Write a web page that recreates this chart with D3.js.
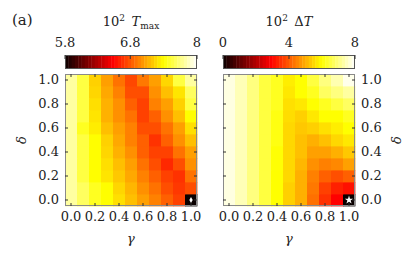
<!DOCTYPE html>
<html>
<head>
<meta charset="utf-8">
<script src="https://cdn.jsdelivr.net/npm/d3@7"></script>
<style>
  body { margin: 0; background: #fff; }
</style>
</head>
<body>
<svg id="chart" width="415" height="260"></svg>
<script>
const gammas = [0.0, 0.1, 0.2, 0.3, 0.4, 0.5, 0.6, 0.7, 0.8, 0.9, 1.0];
const deltas = [0.0, 0.1, 0.2, 0.3, 0.4, 0.5, 0.6, 0.7, 0.8, 0.9, 1.0];
const axisTicks = [0.0, 0.2, 0.4, 0.6, 0.8, 1.0];

// 10^2 T_max, one row per delta (0.0 first), columns along gamma
const tmax = [
  [7.76, 7.60, 7.45, 7.37, 7.26, 7.15, 7.04, 6.94, 6.83, 6.73, 5.80],
  [7.76, 7.60, 7.45, 7.37, 7.23, 7.12, 6.99, 6.89, 6.77, 6.70, 6.77],
  [7.76, 7.53, 7.37, 7.28, 7.18, 7.07, 6.94, 6.83, 6.73, 6.68, 6.89],
  [7.76, 7.53, 7.37, 7.26, 7.15, 7.04, 6.89, 6.77, 6.65, 6.77, 6.99],
  [7.76, 7.53, 7.37, 7.23, 7.10, 6.99, 6.83, 6.73, 6.73, 6.89, 7.04],
  [7.76, 7.53, 7.37, 7.21, 7.07, 6.94, 6.83, 6.68, 6.83, 6.99, 7.15],
  [7.76, 7.45, 7.31, 7.15, 7.04, 6.94, 6.77, 6.77, 6.89, 7.04, 7.26],
  [7.76, 7.53, 7.28, 7.10, 6.99, 6.89, 6.73, 6.83, 6.99, 7.15, 7.37],
  [7.76, 7.53, 7.26, 7.10, 6.99, 6.83, 6.73, 6.94, 7.04, 7.21, 7.53],
  [7.76, 7.53, 7.23, 7.07, 6.94, 6.77, 6.77, 6.99, 7.15, 7.28, 7.60],
  [7.76, 7.53, 7.21, 7.04, 6.89, 6.75, 6.91, 7.04, 7.23, 7.53, 7.76]
];

// 10^2 Delta T, same layout
const deltaT = [
  [7.76, 7.43, 6.98, 6.48, 5.97, 5.41, 5.02, 4.26, 3.50, 2.92, 0.00],
  [7.76, 7.43, 6.98, 6.48, 5.97, 5.41, 5.02, 4.35, 3.68, 3.30, 3.11],
  [7.76, 7.43, 6.98, 6.48, 5.97, 5.50, 5.02, 4.45, 4.07, 3.87, 4.07],
  [7.76, 7.43, 6.98, 6.48, 6.00, 5.50, 5.11, 4.64, 4.45, 4.54, 4.83],
  [7.76, 7.43, 6.98, 6.48, 6.00, 5.50, 5.21, 4.83, 4.83, 5.02, 5.31],
  [7.76, 7.43, 6.98, 6.48, 6.10, 5.50, 5.21, 5.02, 5.21, 5.50, 5.69],
  [7.76, 7.43, 6.98, 6.48, 6.10, 5.50, 5.31, 5.41, 5.60, 5.76, 5.97],
  [7.76, 7.43, 6.98, 6.48, 6.10, 5.56, 5.41, 5.69, 5.97, 5.97, 6.22],
  [7.76, 7.43, 6.98, 6.48, 6.22, 5.60, 5.69, 5.97, 6.22, 6.48, 6.73],
  [7.76, 7.43, 6.98, 6.48, 6.22, 5.69, 5.97, 6.22, 6.73, 6.98, 7.24],
  [7.76, 7.43, 6.98, 6.48, 6.22, 5.76, 5.97, 6.48, 6.98, 7.37, 7.84]
];

const tmaxRange = [5.8, 8];
const tmaxTicks = [5.8, 6.8, 8];
const deltaTRange = [0, 8];
const deltaTTicks = [0, 4, 8];
const markerCell = [1.0, 0.0];   // gamma, delta

// matplotlib-style "hot" palette
function hot(t) {
  t = Math.max(0, Math.min(1, t));
  const c = v => Math.round(255 * Math.max(0, Math.min(1, v)));
  const r = 0.0416 + (1 - 0.0416) * t / 0.365;
  const g = (t - 0.365) / 0.381;
  const b = (t - 0.746) / 0.254;
  return `rgb(${c(r)},${c(g)},${c(b)})`;
}

const serif = '"DejaVu Serif", "Liberation Serif", serif';
const svg = d3.select('#chart').attr('font-family', serif);
const size = 132;
const panelTop = 74;
const fs = 13;

function label(sel) {
  return sel.style('font-family', serif).style('font-size', fs + 'px').attr('fill', '#222');
}

function panel(x0, values, tScale, ticks, title, yLabelsRight, marker) {
  const g = svg.append('g');
  const xScale = d3.scaleBand().domain(gammas).range([x0, x0 + size]);
  const yScale = d3.scaleBand().domain(deltas).range([panelTop + size, panelTop]);

  // cells
  values.forEach((row, i) => {
    g.selectAll(null).data(row).enter().append('rect')
      .attr('x', (d, j) => xScale(gammas[j]))
      .attr('y', yScale(deltas[i]))
      .attr('width', xScale.bandwidth() + 0.4)
      .attr('height', yScale.bandwidth() + 0.4)
      .attr('fill', d => hot(tScale(d)));
  });

  // marker in the special cell
  const mx = xScale(markerCell[0]) + xScale.bandwidth() / 2;
  const my = yScale(markerCell[1]) + yScale.bandwidth() / 2;
  g.append('path')
    .attr('transform', `translate(${mx},${my})`)
    .attr('d', d3.symbol().type(marker === 'star' ? d3.symbolStar : d3.symbolDiamond).size(marker === 'star' ? 22 : 10)())
    .attr('fill', '#fff');

  g.append('rect')
    .attr('x', x0 + 0.5).attr('y', panelTop + 0.5)
    .attr('width', size - 1).attr('height', size - 1)
    .attr('fill', 'none').attr('stroke', '#8a8a8a');

  const fmt = d3.format('.1f');
  const axes = [
    [d3.axisBottom(xScale), `translate(0,${panelTop + size})`, true],
    [d3.axisTop(xScale), `translate(0,${panelTop})`, false],
    [d3.axisLeft(yScale), `translate(${x0},0)`, !yLabelsRight],
    [d3.axisRight(yScale), `translate(${x0 + size},0)`, yLabelsRight]
  ];
  axes.forEach(([ax, tr, labels]) => {
    const a = g.append('g').attr('transform', tr)
      .call(ax.tickValues(axisTicks).tickSize(-3).tickPadding(6)
        .tickFormat(labels ? fmt : () => ''));
    a.attr('font-family', null).attr('font-size', null);
    a.select('.domain').remove();
    a.selectAll('line').attr('stroke', '#333');
    label(a.selectAll('text'));
  });

  // colour bar
  const cb = g.append('g');
  const cbX = d3.scaleLinear().domain([0, 1]).range([x0, x0 + size]);
  const steps = d3.range(40);
  cb.selectAll('rect').data(steps).enter().append('rect')
    .attr('x', d => cbX(d / 40))
    .attr('y', 55)
    .attr('width', size / 40 + 0.4)
    .attr('height', 14)
    .attr('fill', d => hot((d + 0.5) / 40));
  cb.append('rect')
    .attr('x', x0 + 0.5).attr('y', 55.5).attr('width', size - 1).attr('height', 13)
    .attr('fill', 'none').attr('stroke', '#555');
  ticks.forEach(v => {
    const px = cbX(tScale(v));
    cb.append('line').attr('x1', px).attr('x2', px).attr('y1', 55).attr('y2', 59)
      .attr('stroke', '#333');
    label(cb.append('text').attr('x', px).attr('y', 47)
      .attr('text-anchor', 'middle')).text(v);
  });

  // title
  const t = label(g.append('text').attr('x', x0 + size / 2).attr('y', 26)
    .attr('text-anchor', 'middle'));
  t.append('tspan').text('10');
  t.append('tspan').attr('dy', -5).style('font-size', '9px').text('2');
  t.append('tspan').attr('dy', 5).text('\u2002');
  title(t);

  // axis titles
  label(g.append('text').attr('x', x0 + size / 2).attr('y', 243)
    .attr('text-anchor', 'middle'))
    .style('font-style', 'italic').text('γ');
  const lx = yLabelsRight ? 396 : 21;
  label(g.append('text').attr('transform', `translate(${lx},${panelTop + size / 2}) rotate(-90)`)
    .attr('text-anchor', 'middle').attr('dy', '0.35em'))
    .style('font-style', 'italic').text('δ');
}

const tmaxScale = d3.scaleLog().domain(tmaxRange).range([0, 1]).clamp(true);
const dTScale = d3.scaleLinear().domain(deltaTRange).range([0, 1]).clamp(true);

panel(65, tmax, tmaxScale, tmaxTicks, t => {
  t.append('tspan').style('font-style', 'italic').text('T');
  t.append('tspan').attr('dy', 3).style('font-size', '9px').text('max');
}, false, 'diamond');

panel(223, deltaT, dTScale, deltaTTicks, t => {
  t.append('tspan').text('Δ');
  t.append('tspan').style('font-style', 'italic').text('T');
}, true, 'star');

label(svg.append('text').attr('x', 12).attr('y', 25)).style('font-size', '15px').text('(a)');
</script>
</body>
</html>
